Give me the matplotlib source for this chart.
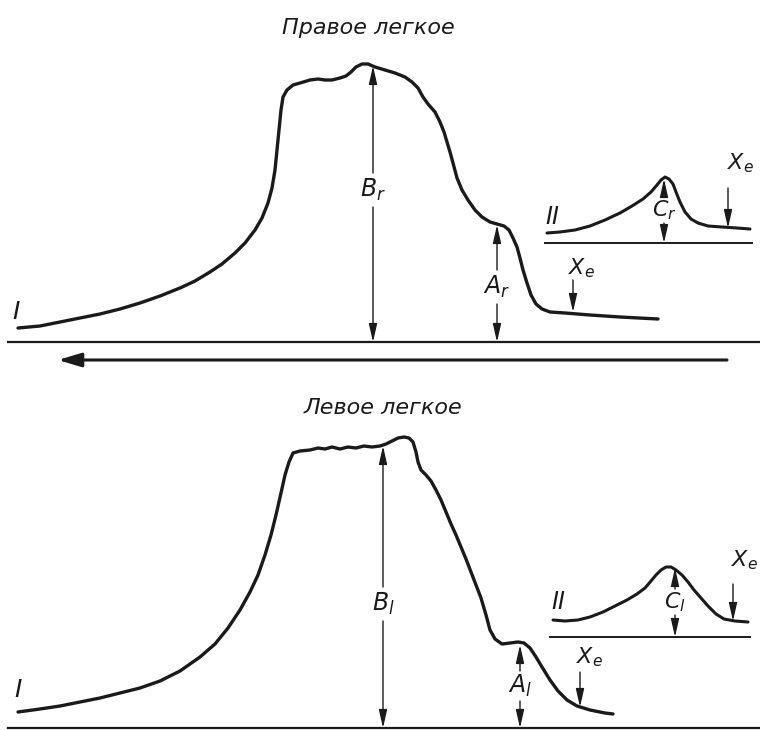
import numpy as np
import matplotlib.pyplot as plt

# curves, in pixel coordinates (x right, y down)
right_x = [18, 40, 60, 80, 100, 120, 140, 160, 180, 195, 210, 222, 235, 245, 255, 262, 268, 272, 275, 277,
           279, 281, 283, 287, 293, 300, 310, 318, 325, 332, 340, 346, 351, 356, 362, 368, 375, 385, 395,
           405, 412, 418, 423, 428, 435, 440, 444, 447, 450, 453, 457, 462, 468, 475, 482, 490, 497, 504,
           509, 513, 517, 520, 523, 527, 531, 536, 542, 550, 565, 590, 620, 658]
right_y = [328, 326, 322, 318, 314, 309, 303, 296, 288, 281, 272, 264, 253, 243, 230, 218, 203, 188, 170, 150,
           130, 110, 97, 90, 85, 83, 80, 79, 80, 80, 78, 76, 72, 67, 64, 64, 67, 70, 73,
           77, 82, 88, 97, 104, 112, 122, 132, 142, 152, 163, 178, 190, 200, 210, 217, 222, 224, 226,
           230, 238, 247, 258, 270, 283, 295, 304, 309, 312, 313, 315, 317, 319]

left_x = [18, 40, 60, 80, 100, 120, 140, 160, 180, 200, 215, 228, 240, 250, 258, 265, 271, 276, 281, 285,
          289, 293, 300, 310, 318, 325, 332, 340, 348, 356, 364, 372, 380, 386, 392, 398, 404, 409, 413,
          416, 418, 421, 426, 431, 436, 441, 446, 451, 456, 461, 466, 471, 476, 481, 486, 490, 495, 502,
          510, 518, 524, 530, 536, 542, 550, 558, 567, 577, 590, 605, 613]
left_y = [712, 709, 706, 702, 698, 693, 688, 681, 671, 657, 644, 628, 610, 592, 575, 555, 535, 515, 493, 475,
          462, 453, 451, 450, 448, 449, 447, 449, 447, 448, 446, 447, 446, 444, 441, 438, 437, 438, 442,
          452, 462, 470, 475, 481, 490, 500, 512, 524, 535, 547, 559, 572, 585, 598, 615, 630, 639, 644,
          643, 642, 643, 648, 657, 667, 680, 691, 700, 706, 710, 713, 714]

# inset II curves
ins_r_x = [547, 560, 575, 590, 605, 620, 632, 643, 651, 657, 661, 665, 669, 673, 676, 680, 685, 691, 698,
           708, 722, 737, 750]
ins_r_y = [233, 232, 230, 226, 220, 213, 206, 199, 192, 185, 180, 177, 179, 184, 192, 202, 212, 219, 223,
           226, 227, 228, 229]
ins_l_x = [553, 565, 578, 590, 603, 615, 627, 637, 645, 651, 656, 661, 666, 671, 676, 682, 688, 694, 701,
           708, 716, 724, 735, 748]
ins_l_y = [620, 621, 620, 617, 612, 606, 600, 594, 588, 581, 575, 570, 567, 567, 570, 575, 582, 590, 598,
           606, 614, 619, 621, 622]

W, H = 760, 730
plt.rcParams['mathtext.fontset'] = 'dejavusans'
fig = plt.figure(figsize=(W / 100, H / 100), dpi=100)
ax = fig.add_axes([0, 0, 1, 1])
ax.set_xlim(0, W)
ax.set_ylim(H, 0)
ax.axis('off')

ink = '#1a1a1a'
fnt = dict(family='DejaVu Sans', style='italic', color=ink)

for xs, ys, w in [(right_x, right_y, 2.4), (left_x, left_y, 2.4), (ins_r_x, ins_r_y, 2.2), (ins_l_x, ins_l_y, 2.2)]:
    ax.plot(xs, ys, color=ink, lw=w, solid_capstyle='round', solid_joinstyle='round')

# baselines
ax.plot([8, 760], [342, 342], color=ink, lw=1.6)
ax.plot([8, 760], [728, 728], color=ink, lw=1.6)
ax.plot([545, 752], [243, 243], color=ink, lw=1.4)
ax.plot([550, 750], [637, 637], color=ink, lw=1.4)

# big arrow pointing left
ax.annotate('', xy=(58, 360), xytext=(727, 360),
            arrowprops=dict(arrowstyle='-|>,head_length=1.0,head_width=0.3', lw=2.2, color=ink,
                            mutation_scale=14, shrinkA=0, shrinkB=0))

aprops = dict(arrowstyle='-|>,head_length=1.1,head_width=0.25', lw=1.0, color=ink,
              mutation_scale=10, shrinkA=0, shrinkB=0)


def arrow(x, y_from, y_to):
    ax.annotate('', xy=(x, y_to), xytext=(x, y_from), arrowprops=aprops)


def measure(x, y0, y1, label, ly, gap=17, fs=17):
    arrow(x, ly - gap, y0)
    arrow(x, ly + gap, y1)
    ax.text(x, ly, label, ha='center', va='center', fontsize=fs, **fnt)


measure(373, 66, 342, r'$B_r$', 190)
measure(497, 225, 342, r'$A_r$', 287)
measure(664, 179, 243, r'$C_r$', 210, gap=13, fs=16)
measure(383, 446, 728, r'$B_l$', 604)
measure(520, 645, 728, r'$A_l$', 686, gap=15)
measure(675, 568, 637, r'$C_l$', 602, gap=13, fs=16)

arrow(573, 280, 312)
arrow(728, 188, 228)
arrow(580, 672, 707)
arrow(733, 584, 621)

for xx, yy in [(582, 268), (741, 163), (590, 657), (745, 560)]:
    ax.text(xx, yy, r'$X_e$', ha='center', va='center', fontsize=16, **fnt)

ax.text(368, 28, 'Правое легкое', ha='center', va='center', fontsize=16, **fnt)
ax.text(383, 408, 'Левое легкое', ha='center', va='center', fontsize=16, **fnt)

ax.text(16, 312, 'I', ha='center', va='center', fontsize=18, **fnt)
ax.text(18, 690, 'I', ha='center', va='center', fontsize=18, **fnt)
ax.text(552, 217, 'II', ha='center', va='center', fontsize=17, **fnt)
ax.text(558, 602, 'II', ha='center', va='center', fontsize=17, **fnt)

fig.savefig('out.png', dpi=100, facecolor='white')
